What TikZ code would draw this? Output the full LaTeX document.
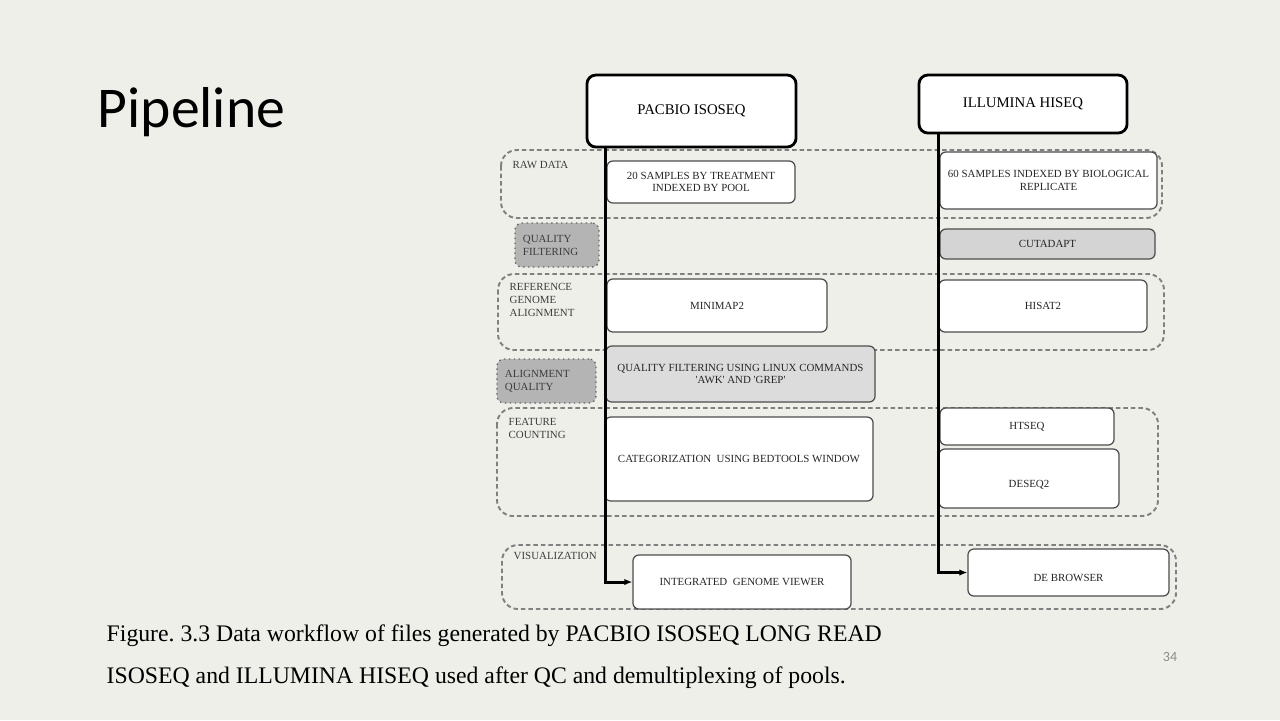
\documentclass[tikz,border=0pt]{standalone}
\usepackage{fontspec}
\setmainfont{Liberation Serif}
\newfontfamily\titlefont{Carlito}
\usetikzlibrary{arrows.meta}
\definecolor{slidebg}{RGB}{239,239,234}
\definecolor{tagfill}{RGB}{180,180,180}
\definecolor{cutfill}{RGB}{212,212,212}
\definecolor{qcfill}{RGB}{220,220,220}
\definecolor{labelgray}{RGB}{60,60,60}
\frenchspacing

\begin{document}
\begin{tikzpicture}[x=0.01cm,y=-0.01cm,
        src box/.style={draw, line width=0.8pt, rounded corners=0.9mm, fill=white, inner sep=0pt,
                        font=\fontsize{4.2}{5}\selectfont},
        proc box/.style={draw=black!70, line width=0.35pt, rounded corners=0.6mm, fill=white, inner sep=0pt,
                         align=center, text=black!85, font=\fontsize{3.1}{3.6}\selectfont},
        group box/.style={draw=black!50, line width=0.55pt, dash pattern=on 0.45mm off 0.3mm, rounded corners=1.6mm},
        group label/.style={anchor=north west, inner sep=0pt, align=left, text=labelgray,
                            font=\fontsize{3.1}{3.7}\selectfont},
        tag box/.style={draw=black!60, densely dotted, line width=0.4pt, rounded corners=0.7mm, fill=tagfill,
                        inner sep=0pt, text=labelgray, font=\fontsize{3.1}{3.7}\selectfont},
        low text/.style={text height=0.18cm, text depth=0cm},
        flow/.style={line width=0.85pt, -{Latex[length=0.8mm,width=0.65mm]}}]

  \fill[slidebg] (0,0) rectangle (1280,720);
  \useasboundingbox (0,0) rectangle (1280,720);

  % slide title and caption
  \node[anchor=base west, inner sep=0pt, font=\titlefont\fontsize{16.4}{18}\selectfont] (title) at (97,127) {Pipeline};
  \node[anchor=base west, inner sep=0pt, font=\fontsize{6.75}{8}\selectfont] (cap1) at (106,641)
    {Figure. 3.3 Data workflow of files generated by PACBIO ISOSEQ LONG READ};
  \node[anchor=base west, inner sep=0pt, font=\fontsize{6.75}{8}\selectfont] (cap2) at (106,683)
    {ISOSEQ and ILLUMINA HISEQ used after QC and demultiplexing of pools.};
  \node[inner sep=0pt, text=black!45, font=\titlefont\fontsize{4}{5}\selectfont] (page) at (1170,657) {34};

  % stage groups
  \draw[group box] (501,150) rectangle (1162,218);
  \node[group label] (rawlbl) at (512,161) {RAW DATA};
  \draw[group box] (498,274) rectangle (1164,350);
  \node[group label] (reflbl) at (509,283) {REFERENCE\\GENOME\\ALIGNMENT};
  \draw[group box] (497,408) rectangle (1158,516);
  \node[group label] (featlbl) at (508,418) {FEATURE\\COUNTING};
  \draw[group box] (502,545) rectangle (1176,609);
  \node[group label] (vislbl) at (513,552) {VISUALIZATION};

  % quality tags
  \node[tag box, minimum width=0.84cm, minimum height=0.44cm] (qftag) at (557,245) {};
  \node[group label, anchor=west] at ([xshift=0.08cm]qftag.west) {QUALITY\\FILTERING};
  \node[tag box, minimum width=0.99cm, minimum height=0.44cm] (aqtag) at (546.5,381) {};
  \node[group label, anchor=west] at ([xshift=0.08cm]aqtag.west) {ALIGNMENT\\QUALITY};

  % sources
  \node[src box, minimum width=2.09cm, minimum height=0.72cm] (pacbio) at (691.5,111) {PACBIO ISOSEQ};
  \node[src box, minimum width=2.08cm, minimum height=0.58cm] (illumina) at (1023,104) {ILLUMINA HISEQ};

  % pacbio steps
  \node[proc box, minimum width=1.88cm, minimum height=0.42cm] (pacraw) at (701,182)
    {20 SAMPLES BY TREATMENT\\INDEXED BY POOL};
  \node[proc box, minimum width=2.20cm, minimum height=0.53cm] (minimap) at (717,305.5) {MINIMAP2};
  \node[proc box, fill=qcfill, minimum width=2.69cm, minimum height=0.56cm] (awkgrep) at (740.5,374)
    {QUALITY FILTERING USING LINUX COMMANDS\\\textquotesingle AWK\textquotesingle{} AND \textquotesingle GREP\textquotesingle};
  \node[proc box, minimum width=2.68cm, minimum height=0.84cm] (bedtools) at (739,459)
    {CATEGORIZATION\ \ USING BEDTOOLS WINDOW};
  \node[proc box, minimum width=2.18cm, minimum height=0.54cm] (igv) at (742,582)
    {INTEGRATED\ \ GENOME VIEWER};

  % illumina steps
  \node[proc box, minimum width=2.17cm, minimum height=0.57cm] (illraw) at (1048.5,180.5)
    {60 SAMPLES INDEXED BY BIOLOGICAL\\REPLICATE};
  \node[proc box, fill=cutfill, minimum width=2.15cm, minimum height=0.30cm] (cutadapt) at (1047.5,244) {CUTADAPT};
  \node[proc box, minimum width=2.08cm, minimum height=0.52cm] (hisat) at (1043,306) {HISAT2};
  \node[proc box, minimum width=1.74cm, minimum height=0.37cm] (htseq) at (1027,426.5) {HTSEQ};
  \node[proc box, low text, minimum width=1.80cm, minimum height=0.59cm] (deseq) at (1029,478.5) {DESEQ2};
  \node[proc box, low text, minimum width=2.01cm, minimum height=0.47cm] (debrowser) at (1068.5,572.5) {DE BROWSER};

  % flow lines
  \draw[flow] (pacbio.south west) ++(20,0) |- (igv.west);
  \draw[flow] (illumina.south west) ++(21,0) |- (debrowser.west);
\end{tikzpicture}
\end{document}
